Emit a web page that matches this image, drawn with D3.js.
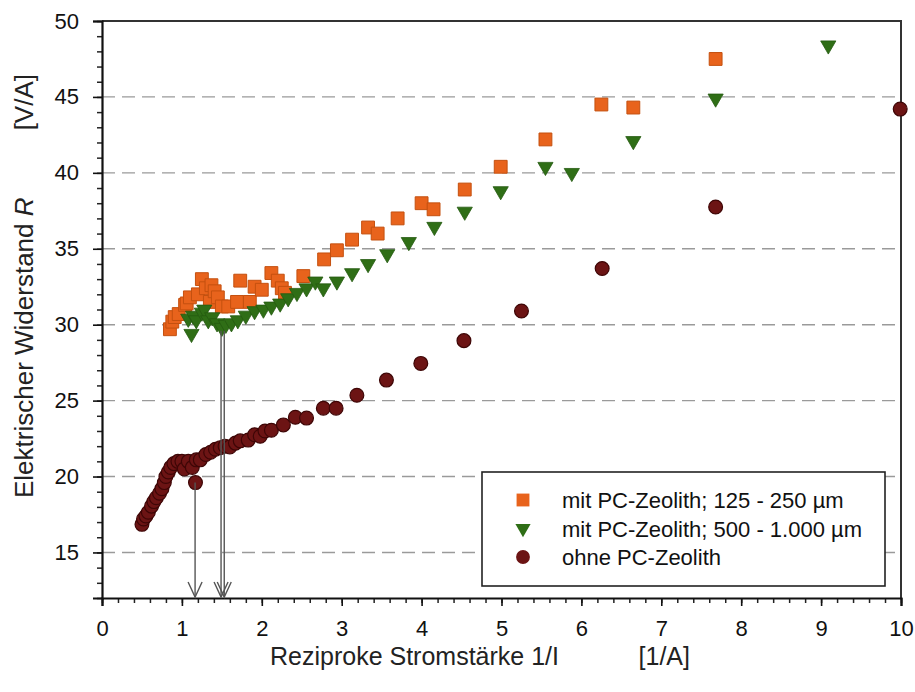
<!DOCTYPE html>
<html>
<head>
<meta charset="utf-8">
<script src="https://cdn.jsdelivr.net/npm/d3@7"></script>
<style>
  body { margin: 0; background: #fff; }
  svg { font-family: "Liberation Sans", Arial, sans-serif; }
</style>
</head>
<body>
<svg id="chart" width="915" height="692"></svg>
<script>
// mit PC-Zeolith; 125 - 250 µm
const squaresX = [0.85, 0.88, 0.91, 0.96, 1.04, 1.06, 1.10, 1.20, 1.25, 1.30, 1.35, 1.37, 1.41, 1.45, 1.50, 1.58, 1.69, 1.73, 1.85, 1.91, 2.00, 2.12, 2.20, 2.25, 2.29, 2.52, 2.78, 2.94, 3.13, 3.33, 3.45, 3.70, 4.00, 4.15, 4.54, 4.99, 5.55, 6.25, 6.65, 7.68];
const squaresY = [29.7, 30.2, 30.5, 30.7, 31.3, 31.4, 31.8, 32.0, 33.0, 32.4, 31.5, 32.6, 32.2, 31.8, 31.2, 31.2, 31.5, 32.9, 31.5, 32.5, 32.3, 33.4, 32.9, 32.4, 32.1, 33.2, 34.3, 34.9, 35.6, 36.4, 36.0, 37.0, 38.0, 37.6, 38.9, 40.4, 42.2, 44.5, 44.3, 47.5];

// mit PC-Zeolith; 500 - 1.000 µm
const trianglesX = [1.08, 1.12, 1.14, 1.18, 1.25, 1.28, 1.33, 1.38, 1.44, 1.50, 1.55, 1.62, 1.70, 1.80, 1.91, 2.02, 2.12, 2.23, 2.33, 2.44, 2.56, 2.67, 2.77, 2.94, 3.13, 3.33, 3.57, 3.84, 4.16, 4.54, 4.99, 5.55, 5.88, 6.65, 7.68, 9.09];
const trianglesY = [30.4, 29.4, 30.6, 30.3, 30.8, 31.0, 30.3, 30.5, 30.1, 29.8, 30.0, 30.1, 30.3, 30.6, 30.9, 31.0, 31.2, 31.4, 31.75, 32.1, 32.4, 32.85, 32.4, 32.85, 33.4, 34.0, 34.65, 35.45, 36.45, 37.45, 38.8, 40.4, 40.0, 42.1, 44.9, 48.4];

// ohne PC-Zeolith
const circlesX = [0.50, 0.52, 0.55, 0.58, 0.62, 0.65, 0.68, 0.72, 0.75, 0.78, 0.80, 0.83, 0.86, 0.90, 0.95, 1.00, 1.03, 1.08, 1.13, 1.17, 1.18, 1.23, 1.30, 1.36, 1.42, 1.48, 1.54, 1.60, 1.67, 1.73, 1.83, 1.91, 1.98, 2.04, 2.12, 2.27, 2.42, 2.56, 2.77, 2.93, 3.19, 3.56, 3.99, 4.53, 5.25, 6.26, 7.68, 9.99];
const circlesY = [16.85, 17.2, 17.4, 17.65, 18.05, 18.35, 18.6, 18.9, 19.2, 19.6, 20.0, 20.3, 20.6, 20.85, 21.0, 21.0, 20.5, 21.0, 20.6, 19.6, 21.1, 21.1, 21.45, 21.6, 21.8, 21.9, 22.0, 21.95, 22.2, 22.35, 22.4, 22.75, 22.65, 23.0, 23.05, 23.4, 23.9, 23.85, 24.5, 24.5, 25.35, 26.35, 27.45, 28.95, 30.9, 33.7, 37.75, 44.2];

// arrows: x position and start value
const arrowX = [1.165, 1.49, 1.53];
const arrowFrom = [19.6, 29.6, 29.6];

const legendLabels = ["mit PC-Zeolith; 125 - 250 µm", "mit PC-Zeolith; 500 - 1.000 µm", "ohne PC-Zeolith"];
const xTicks = [0, 1, 2, 3, 4, 5, 6, 7, 8, 9, 10];
const yTicks = [15, 20, 25, 30, 35, 40, 45, 50];

const orange = "#e8631c", green = "#2f6e16", maroon = "#6c1414";

const margin = { left: 102, right: 14, top: 21, bottom: 94 };
const width = 915, height = 692;

const svg = d3.select('#chart');

const x = d3.scaleLinear().domain([0, 10]).range([margin.left, width - margin.right]);
const y = d3.scaleLinear().domain([12, 50]).range([height - margin.bottom, margin.top]);

// grid
svg.append('g')
    .selectAll('line')
    .data(yTicks.filter(d => d < 50))
    .enter()
    .append('line')
    .attr('x1', x(0)).attr('x2', x(10))
    .attr('y1', d => y(d)).attr('y2', d => y(d))
    .attr('stroke', '#9a9a9a')
    .attr('stroke-width', 1.4)
    .attr('stroke-dasharray', '13,7');

// frame top and right
svg.append('path')
    .attr('d', `M${x(0)},${y(50)}H${x(10)}V${y(12)}`)
    .attr('fill', 'none')
    .attr('stroke', '#333')
    .attr('stroke-width', 2);

// x axis
let xMinor = d3.axisBottom(x).tickValues(d3.range(0, 10.01, 0.2)).tickSize(5).tickFormat('');
svg.append('g')
    .attr('transform', `translate(0, ${y(12)})`)
    .call(xMinor)
    .call(g => g.select('.domain').remove())
    .selectAll('line').attr('stroke', '#222').attr('stroke-width', 1.5);

let xAxis = d3.axisBottom(x).tickValues(xTicks).tickSize(8).tickPadding(14);
let xAxisG = svg.append('g')
    .attr('transform', `translate(0, ${y(12)})`)
    .call(xAxis);
xAxisG.select('.domain').attr('stroke', '#111').attr('stroke-width', 2.2);
xAxisG.selectAll('.tick line').attr('stroke', '#111').attr('stroke-width', 1.6);
xAxisG.selectAll('text')
    .attr('font-size', 22)
    .attr('fill', '#111')
    .attr('font-family', '"Liberation Sans", Arial, sans-serif');

// y axis
let yMinor = d3.axisLeft(y).tickValues(d3.range(12, 50.01, 1)).tickSize(5).tickFormat('');
svg.append('g')
    .attr('transform', `translate(${x(0)}, 0)`)
    .call(yMinor)
    .call(g => g.select('.domain').remove())
    .selectAll('line').attr('stroke', '#222').attr('stroke-width', 1.5);

let yAxis = d3.axisLeft(y).tickValues(yTicks).tickSize(9).tickPadding(14);
let yAxisG = svg.append('g')
    .attr('transform', `translate(${x(0)}, 0)`)
    .call(yAxis);
yAxisG.select('.domain').attr('stroke', '#111').attr('stroke-width', 2.2);
yAxisG.selectAll('.tick line').attr('stroke', '#111').attr('stroke-width', 1.6);
yAxisG.selectAll('text')
    .attr('font-size', 22)
    .attr('fill', '#111')
    .attr('font-family', '"Liberation Sans", Arial, sans-serif');

// axis titles
let xTitle = svg.append('g')
    .attr('font-size', 25)
    .attr('fill', '#222');
xTitle.append('text')
    .attr('x', 270).attr('y', 665)
    .text('Reziproke Stromstärke 1/I');
xTitle.append('text')
    .attr('x', 690).attr('y', 665)
    .attr('text-anchor', 'end')
    .text('[1/A]');

let yTitle = svg.append('g')
    .attr('font-size', 26)
    .attr('fill', '#222');
let yt = yTitle.append('text')
    .attr('transform', 'translate(33, 498) rotate(-90)');
yt.append('tspan').text('Elektrischer Widerstand ');
yt.append('tspan').attr('font-style', 'italic').text('R');
yTitle.append('text')
    .attr('transform', 'translate(33, 74) rotate(-90)')
    .attr('text-anchor', 'end')
    .text('[V/A]');

// markers
const squareSym = d3.symbol().type(d3.symbolSquare).size(165);
const triSym = d3.symbol().type(d3.symbolTriangle).size(100);
const circSym = d3.symbol().type(d3.symbolCircle).size(150);

svg.append('g')
    .selectAll('path')
    .data(d3.range(squaresX.length))
    .enter()
    .append('path')
    .attr('d', squareSym)
    .attr('transform', i => `translate(${x(squaresX[i])}, ${y(squaresY[i])})`)
    .attr('fill', orange)
    .attr('stroke', '#c4500f')
    .attr('stroke-width', 1);

svg.append('g')
    .selectAll('path')
    .data(d3.range(trianglesX.length))
    .enter()
    .append('path')
    .attr('d', triSym)
    .attr('transform', i => `translate(${x(trianglesX[i])}, ${y(trianglesY[i])}) rotate(180)`)
    .attr('fill', green)
    .attr('stroke', '#245a10')
    .attr('stroke-width', 0.8);

svg.append('g')
    .selectAll('path')
    .data(d3.range(circlesX.length))
    .enter()
    .append('path')
    .attr('d', circSym)
    .attr('transform', i => `translate(${x(circlesX[i])}, ${y(circlesY[i])})`)
    .attr('fill', maroon)
    .attr('stroke', '#3e0606')
    .attr('stroke-width', 1.2);

// arrows
let arrows = svg.append('g')
    .selectAll('g')
    .data(d3.range(arrowX.length))
    .enter()
    .append('g')
    .attr('stroke', '#555')
    .attr('stroke-width', 1.4)
    .attr('fill', 'none');
arrows.append('line')
    .attr('x1', i => x(arrowX[i])).attr('x2', i => x(arrowX[i]))
    .attr('y1', i => y(arrowFrom[i])).attr('y2', y(12) - 1);
arrows.append('path')
    .attr('d', i => `M${x(arrowX[i]) - 7},${y(12) - 16}L${x(arrowX[i])},${y(12) - 1}L${x(arrowX[i]) + 7},${y(12) - 16}`);

// legend
const lg = svg.append('g');
lg.append('rect')
    .attr('x', 482).attr('y', 472)
    .attr('width', 403).attr('height', 114)
    .attr('fill', '#fff')
    .attr('stroke', '#222')
    .attr('stroke-width', 1.6);

const legendSyms = [
    { s: squareSym, fill: orange, rot: 0 },
    { s: triSym, fill: green, rot: 180 },
    { s: circSym, fill: maroon, rot: 0 }
];
legendLabels.forEach((label, i) => {
    let cy = 500 + i * 28.5;
    lg.append('path')
        .attr('d', legendSyms[i].s)
        .attr('transform', `translate(523, ${cy}) rotate(${legendSyms[i].rot})`)
        .attr('fill', legendSyms[i].fill);
    lg.append('text')
        .attr('x', 562)
        .attr('y', cy + 8)
        .attr('font-size', 22)
        .attr('fill', '#111')
        .text(label);
});
</script>
</body>
</html>
